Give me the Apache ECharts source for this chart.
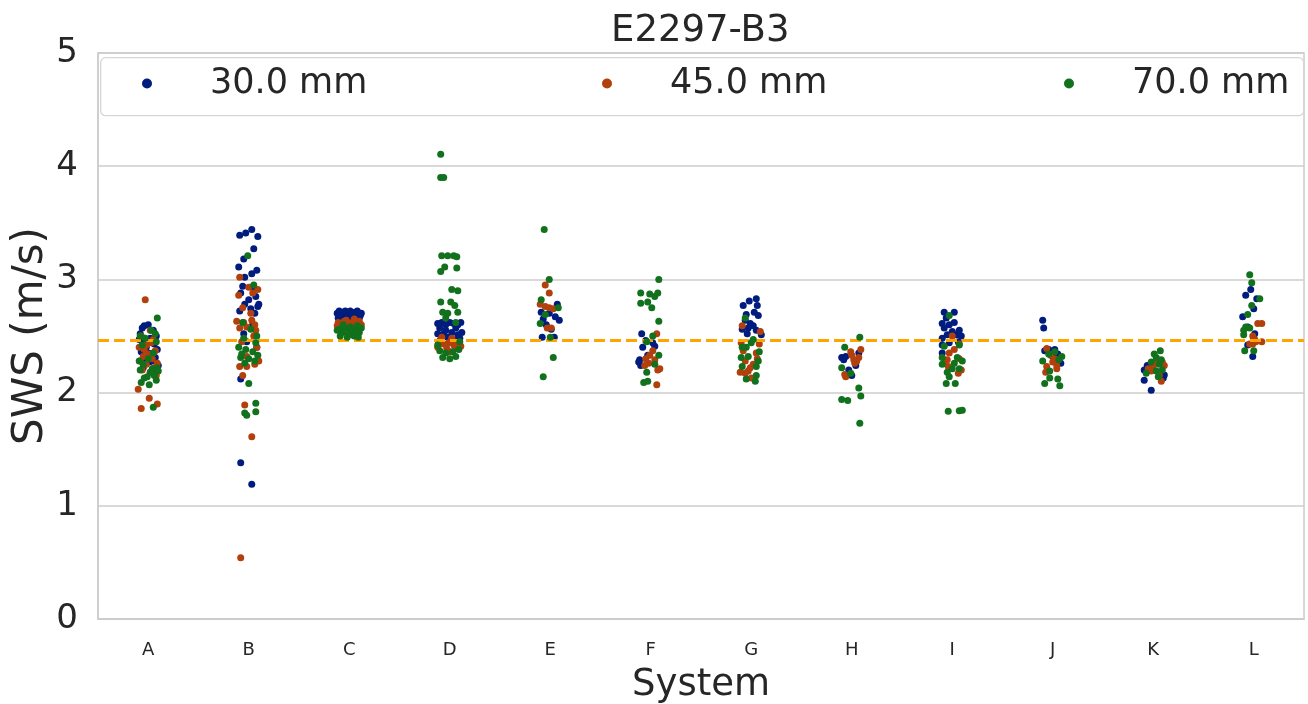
<!DOCTYPE html>
<html>
<head>
<meta charset="utf-8">
<script src="https://cdn.jsdelivr.net/npm/echarts@6/dist/echarts.min.js"></script>
<style>html,body{margin:0;padding:0;background:#fff;}#c{width:1308px;height:704px;}</style>
</head>
<body>
<div id="c"></div>
<script>
const categories = ['A','B','C','D','E','F','G','H','I','J','K','L'];
const seriesNames = ['30.0 mm','45.0 mm','70.0 mm'];
const seriesColors = ['#001c7f','#b1400d','#12711c'];
const refValue = 2.465;
const titleText = 'E2297-B3';

// per category: [jitter offset (category units), SWS value]
const pts30 = [
  [[-0.04,2.59],[0.0,2.60],[-0.06,2.57],[0.05,2.55],[-0.08,2.52],[0.08,2.50],[0.02,2.48],[-0.05,2.45],[0.06,2.43],[-0.02,2.40],[0.09,2.38],[-0.07,2.36],[0.03,2.34],[0.07,2.31],[-0.03,2.29],[0.01,2.27],[0.10,2.24],[-0.05,2.22],[0.04,2.20],[0.0,2.35],[-0.09,2.47],[0.05,2.28]],
  [[-0.09,3.39],[-0.03,3.41],[0.03,3.44],[0.09,3.38],[0.05,3.27],[-0.05,3.18],[-0.10,3.11],[0.08,3.08],[0.03,3.05],[-0.04,3.02],[-0.06,2.94],[0.05,2.92],[-0.08,2.88],[0.07,2.85],[0.0,2.82],[-0.04,2.78],[0.09,2.76],[0.02,2.74],[-0.09,2.72],[0.06,2.70],[-0.05,2.52],[0.08,2.40],[-0.02,2.45],[-0.08,2.12],[-0.08,1.38],[0.03,1.19],[0.10,2.78],[0.04,2.60]],
  [[-0.12,2.70],[-0.09,2.68],[-0.06,2.71],[-0.03,2.69],[0.0,2.70],[0.03,2.68],[0.06,2.71],[0.09,2.69],[0.12,2.70],[-0.11,2.66],[-0.07,2.65],[-0.02,2.67],[0.02,2.66],[0.05,2.64],[0.10,2.66],[-0.04,2.72],[0.08,2.72],[-0.10,2.72],[0.01,2.72],[0.11,2.68],[-0.05,2.63],[0.04,2.70]],
  [[-0.12,2.61],[-0.08,2.62],[-0.04,2.60],[0.0,2.62],[0.04,2.61],[0.08,2.60],[0.11,2.62],[-0.10,2.57],[0.06,2.57],[-0.12,2.52],[-0.06,2.52],[0.02,2.53],[0.08,2.51],[0.12,2.53],[-0.02,2.49],[-0.09,2.47],[0.05,2.46],[0.10,2.48],[-0.04,2.55]],
  [[0.07,2.78],[-0.09,2.71],[-0.01,2.70],[-0.07,2.65],[0.05,2.67],[0.09,2.64],[0.01,2.56],[-0.08,2.49],[0.04,2.49],[-0.04,2.60]],
  [[-0.09,2.52],[-0.05,2.46],[-0.08,2.40],[0.04,2.41],[-0.11,2.29],[-0.10,2.24],[-0.03,2.33],[0.02,2.44],[-0.12,2.27]],
  [[-0.08,2.77],[-0.02,2.81],[0.05,2.83],[0.06,2.77],[0.03,2.71],[-0.05,2.69],[0.07,2.68],[-0.06,2.64],[-0.01,2.61],[0.02,2.59],[-0.03,2.57],[0.10,2.51],[-0.09,2.56],[0.05,2.55],[-0.04,2.52]],
  [[-0.10,2.31],[-0.06,2.32],[0.07,2.35],[-0.03,2.20],[0.0,2.15],[-0.08,2.29],[0.04,2.24]],
  [[-0.08,2.71],[0.02,2.71],[-0.10,2.61],[-0.03,2.60],[0.02,2.62],[-0.08,2.57],[-0.05,2.51],[0.04,2.51],[0.09,2.50],[-0.10,2.48],[-0.10,2.42],[-0.03,2.44],[-0.10,2.35],[0.06,2.45],[0.0,2.54],[-0.06,2.66],[0.07,2.55]],
  [[-0.10,2.64],[-0.09,2.57],[-0.08,2.37],[-0.04,2.38],[0.02,2.38],[0.05,2.34],[0.08,2.26],[0.0,2.32]],
  [[-0.06,2.24],[-0.09,2.20],[0.11,2.155],[-0.09,2.11],[-0.02,2.02],[0.10,2.13],[-0.04,2.22]],
  [[-0.03,2.91],[-0.08,2.86],[0.03,2.83],[0.0,2.74],[-0.11,2.67],[-0.06,2.58],[0.01,2.52],[-0.06,2.42],[-0.01,2.32],[0.0,2.47]]
];
const pts45 = [
  [[-0.03,2.82],[0.02,2.55],[-0.07,2.50],[0.05,2.47],[-0.02,2.42],[-0.09,2.40],[0.07,2.37],[0.0,2.34],[-0.05,2.32],[0.04,2.30],[-0.08,2.28],[0.09,2.26],[-0.02,2.25],[0.06,2.22],[-0.06,2.20],[0.02,2.18],[0.08,2.15],[-0.10,2.03],[0.01,1.95],[0.09,1.90],[-0.07,1.86],[-0.04,2.38],[0.03,2.44]],
  [[-0.09,3.02],[0.0,2.93],[0.09,2.91],[-0.10,2.86],[0.04,2.88],[-0.06,2.75],[0.02,2.70],[-0.12,2.63],[-0.05,2.62],[0.03,2.64],[0.06,2.60],[-0.09,2.57],[0.07,2.55],[-0.02,2.58],[0.05,2.50],[-0.07,2.45],[0.08,2.40],[-0.02,2.32],[-0.09,2.23],[-0.02,2.23],[0.06,2.25],[-0.06,2.15],[-0.04,1.89],[0.03,1.61],[-0.08,0.54],[0.10,2.28]],
  [[-0.11,2.62],[-0.08,2.60],[-0.05,2.63],[-0.01,2.61],[0.03,2.62],[0.06,2.60],[0.10,2.63],[-0.09,2.58],[0.0,2.59],[0.08,2.58],[-0.03,2.64],[0.05,2.65],[-0.12,2.59],[0.12,2.60],[0.02,2.57]],
  [[-0.11,2.45],[-0.06,2.43],[-0.01,2.44],[0.04,2.42],[0.09,2.44],[-0.12,2.40],[-0.03,2.39],[0.06,2.40],[0.11,2.41],[-0.08,2.49],[0.02,2.48],[0.0,2.36]],
  [[-0.05,2.95],[-0.01,2.88],[-0.10,2.78],[-0.05,2.76],[-0.01,2.75],[-0.03,2.57],[0.01,2.57],[0.03,2.74]],
  [[0.06,2.52],[-0.01,2.33],[-0.05,2.30],[0.04,2.29],[-0.06,2.24],[0.07,2.20],[0.09,2.21],[0.06,2.07],[0.02,2.37],[-0.02,2.26]],
  [[-0.09,2.59],[0.09,2.54],[-0.10,2.44],[0.08,2.43],[-0.08,2.37],[0.05,2.35],[-0.06,2.28],[0.02,2.25],[-0.03,2.19],[-0.06,2.17],[0.0,2.13],[-0.01,2.22],[0.06,2.30],[-0.11,2.18]],
  [[-0.01,2.36],[0.09,2.38],[0.02,2.29],[0.05,2.28],[0.03,2.26],[-0.07,2.16],[-0.06,2.14],[0.07,2.31],[0.0,2.33]],
  [[0.00,2.50],[0.07,2.43],[-0.03,2.35],[-0.05,2.29],[0.07,2.30],[-0.04,2.23],[0.09,2.20],[0.06,2.17],[0.02,2.38],[-0.08,2.26]],
  [[-0.06,2.39],[-0.02,2.33],[0.0,2.27],[0.04,2.24],[0.04,2.21],[-0.07,2.18],[-0.06,2.23],[0.02,2.30]],
  [[0.09,2.27],[0.11,2.24],[0.0,2.23],[-0.02,2.19],[0.06,2.15],[0.08,2.10],[0.04,2.28],[-0.05,2.21]],
  [[0.04,2.61],[0.08,2.61],[-0.01,2.50],[0.02,2.45],[-0.01,2.43],[0.08,2.45],[-0.04,2.43],[0.01,2.47]]
];
const pts70 = [
  [[0.09,2.66],[0.03,2.55],[0.07,2.52],[-0.08,2.50],[-0.03,2.48],[0.08,2.45],[-0.06,2.42],[0.05,2.35],[0.0,2.30],[-0.05,2.25],[0.09,2.22],[-0.08,2.20],[0.02,2.18],[0.06,2.15],[-0.04,2.13],[0.08,2.11],[-0.07,2.09],[0.01,2.07],[0.04,2.21],[-0.01,2.14],[0.05,1.87],[-0.09,2.28],[0.10,2.19]],
  [[-0.01,3.21],[0.05,2.95],[-0.06,2.62],[0.02,2.56],[0.08,2.50],[-0.05,2.48],[0.07,2.44],[-0.10,2.40],[-0.03,2.38],[0.04,2.36],[0.09,2.33],[-0.08,2.31],[0.0,2.30],[0.06,2.28],[-0.04,2.26],[0.0,2.08],[0.07,1.905],[-0.04,1.82],[-0.02,1.80],[0.07,1.83],[-0.07,2.34]],
  [[-0.10,2.56],[-0.07,2.53],[-0.04,2.57],[0.0,2.54],[0.03,2.51],[0.06,2.56],[0.10,2.53],[-0.09,2.50],[-0.02,2.49],[0.05,2.50],[0.12,2.57],[-0.12,2.55],[0.08,2.59],[0.01,2.58],[-0.06,2.60],[0.09,2.49],[-0.01,2.52],[0.04,2.55]],
  [[-0.09,4.105],[-0.09,3.90],[-0.06,3.90],[-0.08,3.21],[-0.02,3.21],[0.04,3.21],[0.07,3.20],[-0.05,3.11],[0.07,3.10],[-0.09,3.07],[0.02,2.91],[0.08,2.90],[-0.09,2.80],[0.01,2.80],[0.05,2.77],[-0.07,2.71],[-0.02,2.70],[0.08,2.71],[-0.04,2.66],[0.06,2.62],[-0.10,2.37],[-0.04,2.35],[0.03,2.36],[0.09,2.38],[-0.07,2.31],[0.00,2.30],[0.06,2.32],[0.10,2.45],[-0.12,2.42]],
  [[-0.06,3.44],[-0.01,3.00],[-0.09,2.82],[0.08,2.75],[-0.05,2.69],[-0.10,2.61],[0.0,2.49],[0.03,2.31],[-0.07,2.14]],
  [[0.08,3.00],[-0.10,2.88],[-0.01,2.87],[0.04,2.85],[0.07,2.88],[-0.10,2.79],[-0.03,2.80],[0.01,2.75],[0.08,2.63],[-0.04,2.45],[0.02,2.50],[0.08,2.33],[0.04,2.25],[-0.04,2.18],[-0.07,2.09],[-0.03,2.10]],
  [[-0.06,2.66],[-0.09,2.40],[-0.05,2.40],[-0.03,2.32],[0.08,2.36],[-0.10,2.31],[0.07,2.28],[-0.09,2.23],[0.05,2.23],[0.05,2.15],[0.04,2.10],[0.02,2.47],[0.00,2.44],[-0.05,2.12]],
  [[0.08,2.49],[-0.07,2.40],[-0.10,2.22],[-0.01,2.17],[0.07,2.04],[0.09,1.97],[-0.10,1.94],[-0.04,1.93],[0.08,1.73]],
  [[-0.03,2.68],[-0.08,2.41],[0.07,2.42],[-0.10,2.31],[0.05,2.31],[0.10,2.28],[0.0,2.21],[-0.05,2.18],[0.07,2.21],[-0.03,2.14],[-0.06,2.08],[0.03,2.08],[-0.04,1.835],[0.07,1.84],[0.10,1.845],[-0.10,2.25],[0.02,2.26]],
  [[-0.04,2.34],[0.02,2.36],[0.09,2.32],[-0.10,2.28],[-0.03,2.19],[-0.03,2.13],[0.05,2.12],[-0.08,2.08],[0.07,2.06],[0.06,2.29]],
  [[0.07,2.37],[0.01,2.34],[0.03,2.31],[0.06,2.25],[-0.07,2.17],[0.03,2.19],[0.09,2.20],[-0.02,2.27],[0.08,2.29],[0.05,2.14]],
  [[-0.04,3.04],[-0.02,2.97],[0.06,2.83],[-0.02,2.77],[-0.06,2.69],[-0.08,2.58],[-0.04,2.57],[-0.10,2.51],[-0.09,2.37],[0.0,2.37],[-0.10,2.55]]
];

const allPts = [pts30, pts45, pts70];
function toXY(groups) {
  const out = [];
  groups.forEach((g, ci) => g.forEach(p => out.push([ci + p[0], p[1]])));
  return out;
}

const txt = '#262626';
const gridC = '#cccccc';
const font = 'DejaVu Sans';

const chart = echarts.init(document.getElementById('c'), null, {renderer: 'canvas'});
const legendLefts = [142, 602, 1064];

const series = allPts.map((g, i) => ({
  name: seriesNames[i],
  type: 'scatter',
  xAxisIndex: 1,
  symbol: 'circle',
  symbolSize: 7,
  itemStyle: {color: seriesColors[i], opacity: 1},
  z: 3 + i,
  silent: true,
  data: toXY(g)
}));
series.push({
  type: 'scatter',
  xAxisIndex: 1,
  data: [],
  z: 1,
  markLine: {
    silent: true,
    symbol: ['none', 'none'],
    label: {show: false},
    lineStyle: {color: '#ffa500', width: 3, type: [11, 5]},
    data: [{yAxis: refValue}],
    animation: false
  }
});

chart.setOption({
  animation: false,
  backgroundColor: '#ffffff',
  textStyle: {fontFamily: font},
  title: {
    text: titleText, left: 611, top: 13, padding: 0,
    textStyle: {fontFamily: font, fontSize: 37, fontWeight: 'normal', color: txt}
  },
  graphic: [{
    type: 'rect', left: 100, top: 57, z: 10,
    shape: {width: 1203, height: 58, r: 5},
    style: {fill: 'rgba(255,255,255,0.85)', stroke: '#d6d6d6', lineWidth: 1.3}
  }],
  legend: seriesNames.map((n, i) => ({
    data: [n], left: legendLefts[i], top: 66, padding: 0, z: 20,
    icon: 'circle', itemWidth: 10, itemHeight: 10, itemGap: 0,
    selectedMode: false,
    textStyle: {fontFamily: font, fontSize: 35, color: txt, padding: [0, 0, 0, 53]}
  })),
  grid: {left: 98, right: 4, top: 53, bottom: 85, outerBoundsMode: 'none', containLabel: false, show: true, borderColor: gridC, borderWidth: 1.5, backgroundColor: 'transparent'},
  xAxis: [{
    type: 'category', data: categories, boundaryGap: true,
    axisTick: {show: false},
    axisLine: {show: true, lineStyle: {color: gridC, width: 1.5}},
    axisLabel: {fontFamily: font, fontSize: 18, color: txt, margin: 22},
    splitLine: {show: false},
    name: 'System', nameLocation: 'middle', nameGap: 48, nameMoveOverlap: false,
    nameTextStyle: {fontFamily: font, fontSize: 37, color: txt}
  }, {
    type: 'value', min: -0.5, max: 11.5, show: false
  }],
  yAxis: {
    type: 'value', min: 0, max: 5, interval: 1,
    axisLine: {show: true, onZero: false, lineStyle: {color: gridC, width: 1.5}},
    axisTick: {show: false},
    axisLabel: {fontFamily: font, fontSize: 34, color: txt, margin: 20},
    splitLine: {show: true, lineStyle: {color: gridC, width: 1.5}},
    name: 'SWS (m/s)', nameLocation: 'middle', nameGap: 46, nameMoveOverlap: false,
    nameTextStyle: {fontFamily: font, fontSize: 42, color: txt}
  },
  series: series
});
</script>
</body>
</html>
